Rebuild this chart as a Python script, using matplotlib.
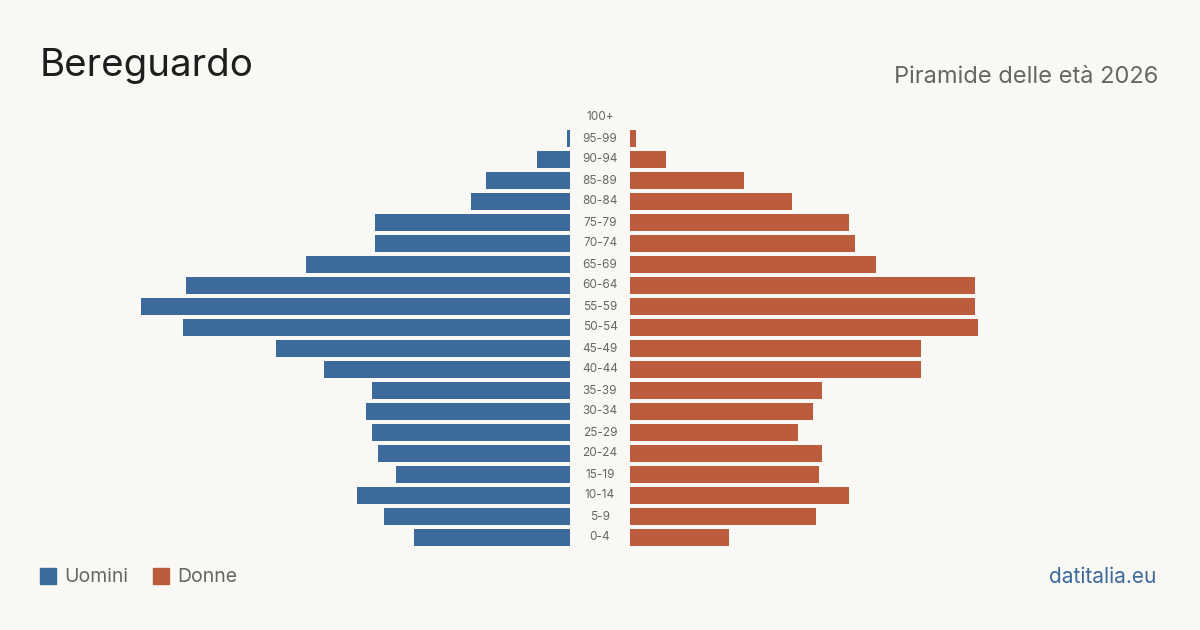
import matplotlib.pyplot as plt
import numpy as np
from matplotlib.patches import Rectangle

plt.rcParams['font.family'] = ['Inter', 'DejaVu Sans']

# age groups, bottom to top
ages = ['0-4', '5-9', '10-14', '15-19', '20-24', '25-29', '30-34', '35-39',
        '40-44', '45-49', '50-54', '55-59', '60-64', '65-69', '70-74',
        '75-79', '80-84', '85-89', '90-94', '95-99', '100+']
uomini = [52, 62, 71, 58, 64, 66, 68, 66, 82, 98, 129, 143, 128, 88, 65,
          65, 33, 28, 11, 1, 0]
donne = [33, 62, 73, 63, 64, 56, 61, 64, 97, 97, 116, 115, 115, 82, 75,
         73, 54, 38, 12, 2, 0]

title = 'Bereguardo'
subtitle = 'Piramide delle età 2026'
source = 'datitalia.eu'

BG = '#f9f8f4'
BLUE = '#3c6a9b'
ORANGE = '#bb5c3c'
GREY = '#666666'

W, H = 1200, 630
fig = plt.figure(figsize=(W / 100, H / 100), dpi=100, facecolor=BG)

px_per_unit = 3.0
bottom = 1 - 548 / H
height = 441 / H
ax_l = fig.add_axes([40 / W, bottom, 530 / W, height])
ax_m = fig.add_axes([570 / W, bottom, 60 / W, height])
ax_r = fig.add_axes([630 / W, bottom, 530 / W, height])

y = np.arange(len(ages))
xmax = 530 / px_per_unit

ax_l.barh(y, uomini, height=0.78, color=BLUE)
ax_l.set_xlim(xmax, 0)
ax_r.barh(y, donne, height=0.78, color=ORANGE)
ax_r.set_xlim(0, xmax)

for ax in (ax_l, ax_m, ax_r):
    ax.set_ylim(-0.5, len(ages) - 0.5)
    ax.set_facecolor('none')
    ax.axis('off')

ax_m.set_xlim(0, 1)
for i, a in enumerate(ages):
    ax_m.text(0.5, i, a, ha='center', va='center', fontsize=8.5, color=GREY)

fig.text(40 / W, 1 - 66 / H, title, fontsize=27.7, color='#1e1e1e', va='center', ha='left')
fig.text(1158 / W, 1 - 77 / H, subtitle, fontsize=17, color=GREY, va='center', ha='right')

# legend
fig.patches.append(Rectangle((40 / W, 1 - 584 / H), 16 / W, 16 / H,
                             transform=fig.transFigure, color=BLUE))
fig.text(64 / W, 1 - 577 / H, 'Uomini', fontsize=14, color=GREY, va='center')
fig.patches.append(Rectangle((153 / W, 1 - 584 / H), 16 / W, 16 / H,
                             transform=fig.transFigure, color=ORANGE))
fig.text(177 / W, 1 - 577 / H, 'Donne', fontsize=14, color=GREY, va='center')

fig.text(1156 / W, 1 - 577 / H, source, fontsize=15, color=BLUE, va='center', ha='right')

fig.savefig('out.png', dpi=100, facecolor=BG)
